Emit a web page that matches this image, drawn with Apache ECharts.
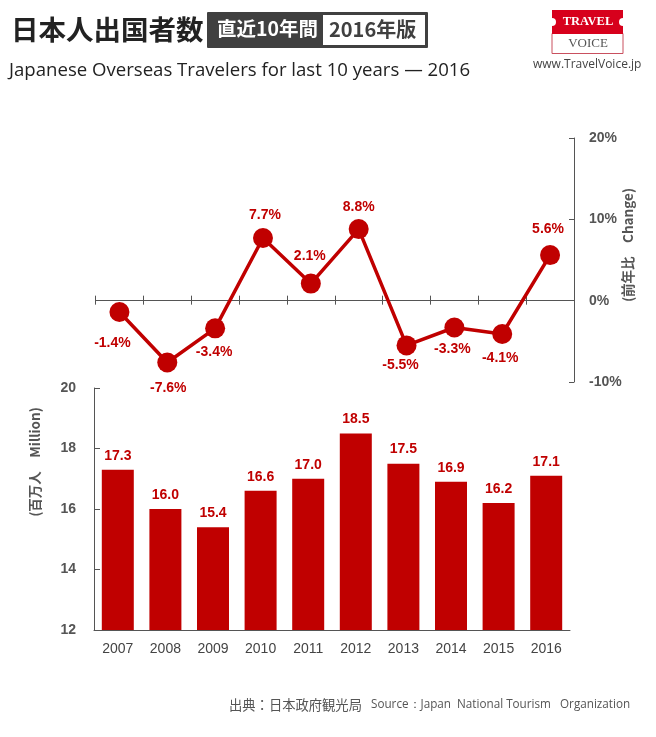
<!DOCTYPE html>
<html>
<head>
<meta charset="utf-8">
<style>
html, body { margin: 0; padding: 0; background: #fff; }
#main { width: 656px; height: 737px; }
</style>
<script src="https://cdn.jsdelivr.net/npm/echarts@6/dist/echarts.min.js"></script>
</head>
<body>
<div id="main"></div>
<script>
const years = ['2007', '2008', '2009', '2010', '2011', '2012', '2013', '2014', '2015', '2016']
const travelers = [17.3, 16.0, 15.4, 16.6, 17.0, 18.5, 17.5, 16.9, 16.2, 17.1]
const change = [-1.4, -7.6, -3.4, 7.7, 2.1, 8.8, -5.5, -3.3, -4.1, 5.6]
// where each % label sits relative to its point
const changeLabelShift = [[-7, 31], [1, 26], [-1, 24], [2, -23], [-1, -27], [0, -22], [-6, 20], [-2, 22], [-2, 24], [-2, -26]]

const RED = '#c00000'
const GRAY = '#555'
const CJK = '"Noto Sans CJK JP", sans-serif'
const LATIN = '"Liberation Sans", Arial, sans-serif'

const chart = echarts.init(document.getElementById('main'))

const option = {
    animation: false,
    backgroundColor: '#fff',
    textStyle: { fontFamily: LATIN },
    grid: [
        { left: 95.5, width: 478.5, top: 138, height: 244 }, // 前年比
        { left: 94, width: 476, top: 388, height: 242 }  // 人数
    ],
    xAxis: [
        {
            gridIndex: 0, type: 'category', data: years, position: 'bottom',
            axisLine: { onZero: true, lineStyle: { color: GRAY, width: 1 } },
            axisTick: { show: true, length: 4, lineStyle: { color: GRAY, width: 1 } },
            axisLabel: { show: false }
        },
        // same axis again, so the ticks cross the zero line on both sides
        {
            gridIndex: 0, type: 'category', data: years, position: 'bottom',
            axisLine: { onZero: true, lineStyle: { color: GRAY, width: 1 } },
            axisTick: { show: true, inside: true, length: 5, lineStyle: { color: GRAY, width: 1 } },
            axisLabel: { show: false }
        },
        {
            gridIndex: 1, type: 'category', data: years,
            axisLine: { lineStyle: { color: GRAY, width: 1 } },
            axisTick: { show: false },
            axisLabel: { color: '#444', fontSize: 14, margin: 12 }
        }
    ],
    yAxis: [
        {
            gridIndex: 0, type: 'value', position: 'right', min: -10, max: 20, interval: 10,
            axisLine: { show: true, lineStyle: { color: GRAY, width: 1 } },
            axisTick: { show: true, inside: true, length: 5, lineStyle: { color: GRAY, width: 1 } },
            axisLabel: { color: GRAY, fontSize: 14, fontWeight: 'bold', margin: 15, formatter: '{value}%' },
            splitLine: { show: false }
        },
        {
            gridIndex: 1, type: 'value', position: 'left', min: 12, max: 20, interval: 2,
            axisLine: { show: true, lineStyle: { color: GRAY, width: 1 } },
            axisTick: { show: true, inside: true, length: 6, lineStyle: { color: GRAY, width: 1 } },
            axisLabel: { color: GRAY, fontSize: 14, fontWeight: 'bold', margin: 18 },
            splitLine: { show: false }
        },
        // hidden, only there so the second x axis can also sit on zero
        { gridIndex: 0, type: 'value', position: 'left', min: -10, max: 20, interval: 10, show: false }
    ],
    series: [
        {
            type: 'line', xAxisIndex: 0, yAxisIndex: 0, z: 5,
            data: change.map((v, i) => ({
                value: v,
                label: { offset: changeLabelShift[i] }
            })),
            symbol: 'circle', symbolSize: 20,
            itemStyle: { color: RED },
            lineStyle: { color: RED, width: 3.5 },
            label: {
                show: true, position: 'inside', color: RED, fontSize: 14, fontWeight: 'bold',
                formatter: p => p.value.toFixed(1) + '%'
            }
        },
        {
            type: 'bar', xAxisIndex: 2, yAxisIndex: 1, data: travelers,
            barWidth: 32,
            itemStyle: { color: RED },
            label: {
                show: true, position: 'top', distance: 7, color: RED, fontSize: 14, fontWeight: 'bold',
                formatter: p => p.value.toFixed(1)
            }
        }
    ],
    graphic: [
        { type: 'text', x: 11, y: 30, style: { text: '日本人出国者数', font: 'bold 27.5px ' + CJK, fill: '#222', verticalAlign: 'middle' } },
        { type: 'rect', shape: { x: 207, y: 12, width: 221, height: 36, r: 1 }, style: { fill: '#404040' } },
        { type: 'rect', shape: { x: 323, y: 15, width: 102, height: 30 }, style: { fill: '#fff' } },
        { type: 'text', x: 217, y: 29, style: { text: '直近10年間', font: 'bold 19.5px ' + CJK, fill: '#fff', verticalAlign: 'middle' } },
        { type: 'text', x: 329, y: 29, style: { text: '2016年版', font: 'bold 20px ' + CJK, fill: '#404040', verticalAlign: 'middle' } },
        { type: 'text', x: 9, y: 71, style: { text: 'Japanese Overseas Travelers for last 10 years — 2016', font: '18.6px "Open Sans", sans-serif', fill: '#222', verticalAlign: 'middle' } },

        // logo
        { type: 'rect', shape: { x: 552, y: 33.5, width: 71, height: 20 }, style: { fill: '#fff', stroke: '#c9505f', lineWidth: 1 } },
        { type: 'rect', shape: { x: 552, y: 10, width: 71, height: 24 }, style: { fill: '#d7001c' } },
        { type: 'circle', shape: { cx: 552, cy: 22, r: 4 }, style: { fill: '#fff' } },
        { type: 'circle', shape: { cx: 623, cy: 22, r: 4 }, style: { fill: '#fff' } },
        { type: 'text', x: 588, y: 22, style: { text: 'TRAVEL', font: 'bold 12.5px "Liberation Serif", serif', fill: '#fff', align: 'center', verticalAlign: 'middle' } },
        { type: 'text', x: 588, y: 44, style: { text: 'VOICE', font: '13px "Liberation Serif", serif', fill: '#555', align: 'center', verticalAlign: 'middle' } },
        { type: 'text', x: 533, y: 65, style: { text: 'www.TravelVoice.jp', font: '12px "Open Sans", sans-serif', fill: '#444', verticalAlign: 'middle' } },

        // axis names
        { type: 'text', x: 35, y: 462, rotation: Math.PI / 2, style: { text: '(百万人　Million)', font: 'bold 13.5px ' + CJK, fill: GRAY, align: 'center', verticalAlign: 'middle' } },
        { type: 'text', x: 628, y: 245, rotation: Math.PI / 2, style: { text: '(前年比　Change)', font: 'bold 13.5px ' + CJK, fill: GRAY, align: 'center', verticalAlign: 'middle' } },

        // source
        { type: 'text', x: 229, y: 705, style: { text: '出典：日本政府観光局', font: '13.3px ' + CJK, fill: '#555', verticalAlign: 'middle' } },
        { type: 'text', x: 371, y: 705, style: { text: 'Source：Japan  National Tourism   Organization', font: '11.7px "Open Sans", sans-serif', fill: '#555', verticalAlign: 'middle' } }
    ]
}

chart.setOption(option)
</script>
</body>
</html>
